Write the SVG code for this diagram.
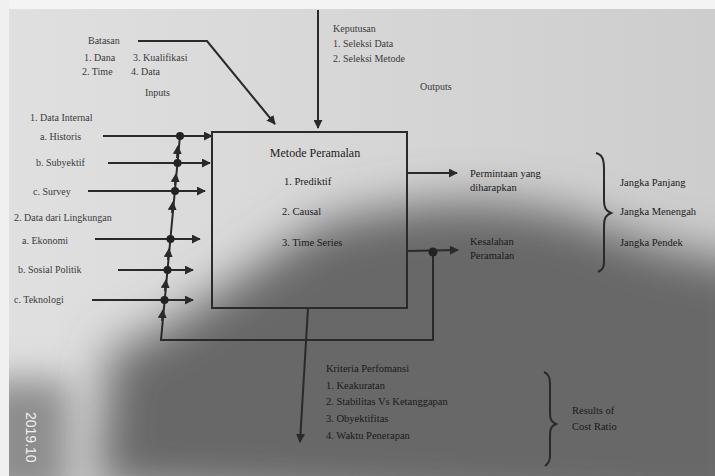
<svg xmlns="http://www.w3.org/2000/svg" width="715" height="476" viewBox="0 0 715 476">
<defs>
<style>
.t{font-family:"Liberation Serif","DejaVu Serif",serif;font-size:10px;fill:#3a3a3a}
.td{font-family:"Liberation Serif","DejaVu Serif",serif;font-size:10.5px;fill:#1a1a1a}
.tb{font-family:"Liberation Serif","DejaVu Serif",serif;font-size:12px;fill:#222}
.ln{stroke:#2a2a2a;stroke-width:2;fill:none}
.dot{fill:#222}
</style>
<marker id="ah" viewBox="0 0 10 10" refX="9" refY="5" markerWidth="4.5" markerHeight="4.5" orient="auto"><path d="M0,0 L10,5 L0,10 z" fill="#2a2a2a"/></marker>
<filter id="blur" x="-50%" y="-50%" width="200%" height="200%"><feGaussianBlur stdDeviation="24"/></filter>
<filter id="blur2" x="-50%" y="-50%" width="200%" height="200%"><feGaussianBlur stdDeviation="18"/></filter>
<linearGradient id="lg" x1="0" y1="0" x2="1" y2="0"><stop offset="0" stop-color="#e0e0e0"/><stop offset="1" stop-color="#cdcdcd"/></linearGradient>
</defs>
<rect x="0" y="0" width="715" height="476" fill="url(#lg)"/>
<path d="M95,490 L110,350 C170,335 230,280 320,225 C420,195 520,195 600,225 C660,250 715,260 760,265 L760,520 Z" fill="#686868" filter="url(#blur)"/>
<rect x="-20" y="380" width="90" height="120" fill="#8c8c8c" filter="url(#blur2)"/>
<rect x="0" y="0" width="715" height="9" fill="#f4f4f4"/>
<rect x="0" y="0" width="9" height="476" fill="#f0f0f0"/>
<text transform="translate(26,412) rotate(90)" font-family="Liberation Sans,sans-serif" font-size="14" fill="#f0f0f0">2019.10</text>

<g id="box">
<rect x="212" y="132" width="195" height="176" fill="none" stroke="#2a2a2a" stroke-width="2"/>
<text class="tb" x="315" y="157" text-anchor="middle">Metode Peramalan</text>
<text class="td" x="284" y="185">1. Prediktif</text>
<text class="td" x="282" y="215">2. Causal</text>
<text class="td" x="282" y="246">3. Time Series</text>
</g>

<g id="batasan">
<text class="t" x="88" y="44">Batasan</text>
<text class="t" x="84" y="61">1. Dana</text>
<text class="t" x="133" y="61">3. Kualifikasi</text>
<text class="t" x="82" y="75">2. Time</text>
<text class="t" x="131" y="75">4. Data</text>
<text class="t" x="145" y="96" font-size="9">Inputs</text>
</g>

<g id="keputusan">
<text class="t" x="333" y="32">Keputusan</text>
<text class="t" x="333" y="47">1. Seleksi Data</text>
<text class="t" x="333" y="62">2. Seleksi Metode</text>
<text class="t" x="420" y="90" font-size="9">Outputs</text>
</g>

<g id="inputs">
<text class="t" x="30" y="121" font-size="9">1. Data Internal</text>
<text class="t" x="40" y="140">a. Historis</text>
<text class="t" x="36" y="166">b. Subyektif</text>
<text class="t" x="33" y="195">c. Survey</text>
<text class="t" x="14" y="221" font-size="9">2. Data dari Lingkungan</text>
<text class="t" x="22" y="244">a. Ekonomi</text>
<text class="t" x="18" y="273">b. Sosial Politik</text>
<text class="t" x="14" y="303">c. Teknologi</text>
</g>

<g id="outputs">
<text class="td" x="470" y="177">Permintaan yang</text>
<text class="td" x="470" y="191">diharapkan</text>
<text class="td" x="470" y="245">Kesalahan</text>
<text class="td" x="470" y="259">Peramalan</text>
<text class="td" x="620" y="186">Jangka Panjang</text>
<text class="td" x="620" y="215">Jangka Menengah</text>
<text class="td" x="620" y="246">Jangka Pendek</text>
</g>

<g id="kriteria">
<text class="td" x="326" y="372">Kriteria Perfomansi</text>
<text class="td" x="326" y="389">1. Keakuratan</text>
<text class="td" x="326" y="405">2. Stabilitas  Vs Ketanggapan</text>
<text class="td" x="326" y="422">3. Obyektifitas</text>
<text class="td" x="326" y="439">4. Waktu Penerapan</text>
<text class="td" x="572" y="414">Results of</text>
<text class="td" x="572" y="430">Cost Ratio</text>
</g>

<g id="connectors">
<polyline class="ln" points="138,41 207,41 275,124" marker-end="url(#ah)"/>
<line class="ln" x1="318" y1="10" x2="318" y2="128" marker-end="url(#ah)"/>
<line class="ln" x1="103" y1="136" x2="212" y2="136" marker-end="url(#ah)"/>
<line class="ln" x1="108" y1="163" x2="210" y2="163" marker-end="url(#ah)"/>
<line class="ln" x1="88" y1="191" x2="205" y2="191" marker-end="url(#ah)"/>
<line class="ln" x1="95" y1="239" x2="200" y2="239" marker-end="url(#ah)"/>
<line class="ln" x1="118" y1="270" x2="193" y2="270" marker-end="url(#ah)"/>
<line class="ln" x1="92" y1="300" x2="193" y2="300" marker-end="url(#ah)"/>
<polyline class="ln" points="180,136 161,340 433,340 433,252"/>
<line class="ln" x1="177" y1="158" x2="178" y2="146" marker-end="url(#ah)"/>
<line class="ln" x1="175" y1="185" x2="176" y2="174" marker-end="url(#ah)"/>
<line class="ln" x1="172" y1="213" x2="173" y2="202" marker-end="url(#ah)"/>
<line class="ln" x1="168" y1="260" x2="169" y2="249" marker-end="url(#ah)"/>
<line class="ln" x1="165" y1="291" x2="166" y2="280" marker-end="url(#ah)"/>
<line class="ln" x1="162" y1="321" x2="163" y2="310" marker-end="url(#ah)"/>
<circle class="dot" cx="180" cy="136" r="4"/>
<circle class="dot" cx="177.5" cy="163" r="4"/>
<circle class="dot" cx="175" cy="191" r="4"/>
<circle class="dot" cx="170.5" cy="239" r="4"/>
<circle class="dot" cx="167.5" cy="270" r="4"/>
<circle class="dot" cx="164.5" cy="300" r="4"/>
<line class="ln" x1="407" y1="173" x2="457" y2="173" marker-end="url(#ah)"/>
<line class="ln" x1="407" y1="251" x2="458" y2="250" marker-end="url(#ah)"/>
<circle class="dot" cx="433" cy="252" r="4.5"/>
<line class="ln" x1="308" y1="308" x2="300" y2="442" marker-end="url(#ah)"/>
<path class="ln" d="M596,153 C603,155 604,160 604,170 L604,200 C604,208 606,211 611,213 C606,215 604,218 604,226 L604,262 C604,268 602,270 598,272" stroke-width="1.8"/>
<path class="ln" d="M544,372 C549,374 550,378 550,386 L550,414 C550,420 552,422 556,424 C552,426 550,428 550,434 L550,456 C550,462 548,464 545,466" stroke-width="1.8"/>
</g>
</svg>
